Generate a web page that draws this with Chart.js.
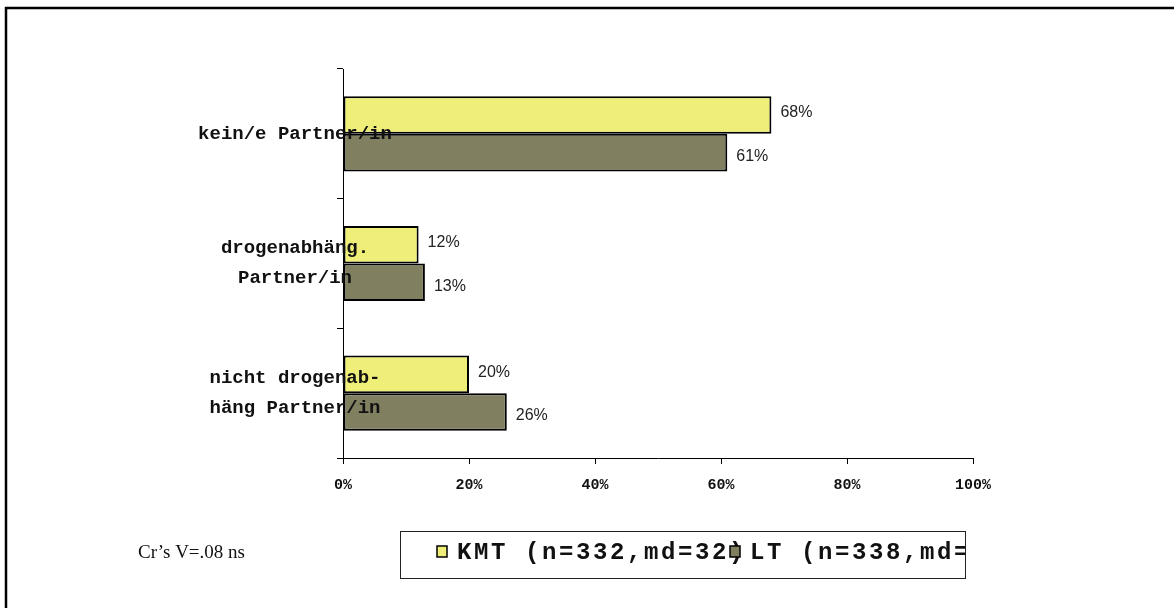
<!DOCTYPE html>
<html>
<head>
<meta charset="utf-8">
<script src="https://cdn.jsdelivr.net/npm/chart.js@4/dist/chart.umd.min.js"></script>
<style>
  html, body { margin: 0; padding: 0; background: #fff; }
  #wrap { width: 1174px; height: 608px; }
</style>
</head>
<body>
<div id="wrap"><canvas id="chart" width="1174" height="608"></canvas></div>
<script>
const categories = [
    ['kein/e Partner/in'],
    ['drogenabhäng.', 'Partner/in'],
    ['nicht drogenab-', 'häng Partner/in']
];
const kmtValues = [68, 12, 20];
const ltValues = [61, 13, 26];
const seriesNames = ['KMT (n=332,md=32)', 'LT (n=338,md='];
const xTickValues = [0, 20, 40, 60, 80, 100];
const noteText = 'Cr\u2019s V=.08 ns';

const MONO = '"Liberation Mono", "Courier New", monospace';

// labels, frame, legend and note drawn on top of the chart
const overlay = {
    id: 'overlay',
    afterDraw(chart) {
        const ctx = chart.ctx;
        const yScale = chart.scales.y;
        ctx.save();

        // frame (only top and left edge are visible)
        ctx.strokeStyle = '#000';
        ctx.lineWidth = 2.5;
        ctx.beginPath();
        ctx.moveTo(6, 620);
        ctx.lineTo(6, 8);
        ctx.lineTo(1190, 8);
        ctx.stroke();

        // category labels
        ctx.fillStyle = '#111';
        ctx.font = 'bold 19px ' + MONO;
        ctx.textAlign = 'center';
        ctx.textBaseline = 'middle';
        categories.forEach((lines, i) => {
            const cy = yScale.getPixelForValue(i);
            const y0 = cy - (lines.length - 1) * 15;
            lines.forEach((t, j) => ctx.fillText(t, 295, y0 + j * 30));
        });

        // value labels
        ctx.font = '16px "Liberation Sans", Arial, sans-serif';
        ctx.textAlign = 'left';
        ctx.fillStyle = '#222';
        chart.data.datasets.forEach((ds, di) => {
            chart.getDatasetMeta(di).data.forEach((bar, i) => {
                ctx.fillText(ds.data[i] + '%', bar.x + 9, bar.y + (di ? 4 : -2));
            });
        });

        // note
        ctx.font = '19px "Liberation Serif", "Times New Roman", serif';
        ctx.fillStyle = '#111';
        ctx.fillText(noteText, 138, 553);

        // legend box
        const bx = 400, by = 531, bw = 565, bh = 47;
        ctx.strokeStyle = '#222';
        ctx.lineWidth = 1;
        ctx.strokeRect(bx + 0.5, by + 0.5, bw, bh);
        ctx.beginPath();
        ctx.rect(bx + 1, by + 1, bw - 1, bh - 1);
        ctx.clip();
        const itemX = [437, 730];
        ctx.font = 'bold 24px ' + MONO;
        ctx.letterSpacing = '2.6px';
        ctx.textBaseline = 'middle';
        chart.data.datasets.forEach((ds, di) => {
            ctx.fillStyle = '#111';
            ctx.fillText(ds.label, itemX[di] + 20, 553);
        });
        chart.data.datasets.forEach((ds, di) => {
            const x = itemX[di];
            ctx.fillStyle = ds.backgroundColor;
            ctx.fillRect(x, 546, 10, 11);
            ctx.strokeStyle = '#000';
            ctx.lineWidth = 1.5;
            ctx.strokeRect(x, 546, 10, 11);
        });
        ctx.restore();
    }
};

new Chart(document.getElementById('chart'), {
    type: 'bar',
    data: {
        labels: categories.map(l => l.join(' ')),
        datasets: [{
            label: seriesNames[0],
            data: kmtValues,
            backgroundColor: '#EFEE78',
            borderColor: '#000',
            borderWidth: 2,
            borderSkipped: false
        }, {
            label: seriesNames[1],
            data: ltValues,
            backgroundColor: '#807F60',
            borderColor: '#000',
            borderWidth: 2,
            borderSkipped: false
        }]
    },
    options: {
        indexAxis: 'y',
        responsive: false,
        animation: false,
        layout: { padding: { left: 337, right: 201, top: 69, bottom: 102 } },
        datasets: { bar: { categoryPercentage: 0.58, barPercentage: 1 } },
        plugins: {
            legend: { display: false },
            tooltip: { enabled: false }
        },
        scales: {
            x: {
                min: 0,
                max: 100,
                afterBuildTicks: axis => { axis.ticks = xTickValues.map(v => ({ value: v })); },
                border: { color: '#000', width: 1 },
                grid: { drawOnChartArea: false, tickLength: 6, color: '#000' },
                ticks: {
                    padding: 12,
                    color: '#111',
                    font: { family: MONO, size: 15, weight: 'bold' },
                    callback: v => v + '%'
                }
            },
            y: {
                border: { color: '#000', width: 1 },
                grid: { drawOnChartArea: false, tickLength: 6, color: '#000' },
                ticks: { display: false }
            }
        }
    },
    plugins: [overlay]
});
</script>
</body>
</html>
